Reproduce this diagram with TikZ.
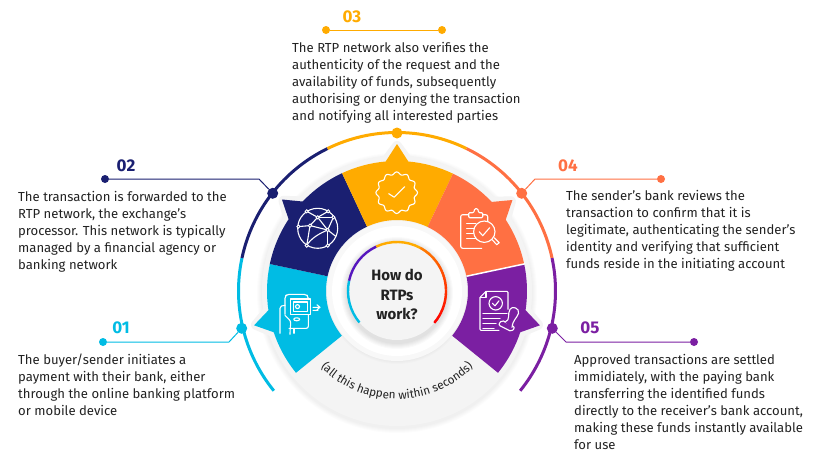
\documentclass[tikz,border=0pt]{standalone}
\usepackage{fontspec}
\setmainfont{Fira Sans}
\usetikzlibrary{decorations.text}
\definecolor{cgold}{HTML}{FFAB00}
\definecolor{cnavy}{HTML}{1A1F71}
\definecolor{corange}{HTML}{FF7043}
\definecolor{cpurple}{HTML}{7B1FA2}
\definecolor{ccyan}{HTML}{00BCE4}
\definecolor{cband}{HTML}{F4F4F4}
\definecolor{ctext}{HTML}{222222}
\tikzset{
  x=1pt,y=1pt,
  body/.style={anchor=north west,inner sep=0pt,align=left,text=ctext,font=\fontsize{13.1}{17}\selectfont},
  num/.style={inner sep=0pt,font=\fontsize{17}{17}\selectfont\bfseries},
  dot/.style={circle,inner sep=0pt,minimum size=#1,fill},
  lead/.style={line width=1pt},
  rim/.style={line width=3pt},
  ic/.style={draw=white,line width=1.1pt,line join=round,line cap=round},
}
\newcommand{\wedgeshape}[4]{% start, end, mid, color
  \fill[#4] (#1:71) -- (#1:130) arc (#1:#3-5:130) -- (#3:147) -- (#3+5:130) arc (#3+5:#2:130) -- (#2:71) arc (#2:#1:71) -- cycle;
}
\newcommand{\wedgerim}[3]{%
  \fill[cband,draw=cband,line width=10pt,line join=round] (#1:76) -- (#1:130) arc (#1:#3-5:130) -- (#3:145) -- (#3+5:130) arc (#3+5:#2:130) -- (#2:76) arc (#2:#1:76) -- cycle;
}
\begin{document}
\begin{tikzpicture}
\useasboundingbox (0,0) rectangle (830,-464);
\fill[white] (0,0) rectangle (830,-464);
% disc
\begin{scope}[shift={(397,-291)}]
  \foreach \r in {140,139,138,137,136}{\fill[black,opacity=0.012] (0,-2) circle (\r);}
  \wedgerim{168}{219}{193.5}
  \wedgerim{115}{168}{141.5}
  \wedgerim{64.5}{115}{90}
  \wedgerim{12}{64.5}{38.25}
  \wedgerim{-39}{12}{-13.5}
  \fill[cband] (0,0) circle (135);
  \wedgeshape{168}{219}{193.5}{ccyan}
  \wedgeshape{115}{168}{141.5}{cnavy}
  \wedgeshape{64.5}{115}{90}{cgold}
  \wedgeshape{12}{64.5}{38.25}{corange}
  \wedgeshape{-39}{12}{-13.5}{cpurple}
  \draw[white,line width=1.5pt] (12:71) -- (12:131);
  % centre
  \foreach \r in {71,70,69,68,67}{\fill[black,opacity=0.012] (0,-2) circle (\r);}
  \fill[cband!60!white] (0,0) circle (70);
  \fill[white] (0,0) circle (65);
  \foreach \r in {56,55,54,53,52,51}{\fill[black,opacity=0.02] (0,-2) circle (\r);}
  \fill[cband] (0,0) circle (49);
  \draw[cpurple!70!blue,line width=2.4pt] (168:49) arc (168:115:49);
  \draw[ccyan,line width=2.4pt] (220:49) arc (220:168:49);
  \draw[cgold,line width=2.4pt] (115:49) arc (115:62:49);
  \foreach \a [evaluate=\a as \m using (62-\a)*100/101] in {62,60,...,-38}{
    \draw[red!\m!orange,line width=2.4pt] (\a:49) arc (\a:\a-2.5:49);
  }
  % outer arcs
  \draw[ccyan,rim] (219:158.5) arc (219:168:158.5);
  \draw[cnavy,rim] (168:158.5) arc (168:116:158.5);
  \draw[cgold,rim] (116:158.5) arc (116:64:158.5);
  \draw[corange,rim] (64:158.5) arc (64:12:158.5);
  \draw[cpurple,rim] (12:158.5) arc (12:-39:158.5);
  \path[postaction={decorate,decoration={text along path,text align=center,text color=ctext,
     text={|\fontsize{11.7}{12}\selectfont|(all this happen within seconds)}}}]
     (212:108) arc (212:328:108);
\end{scope}
% centre label
\node[inner sep=0pt,align=center,text=ctext,font=\fontsize{15}{19.5}\selectfont\bfseries] (hub) at (397,-294.5) {How do\\RTPs\\work?};
% leaders
\node[dot=11pt,fill=cgold] (d3) at (397,-133) {};
\node[dot=8pt,fill=cgold] (e3a) at (326,-30) {};
\node[dot=8pt,fill=cgold] (e3b) at (442,-30) {};
\draw[cgold,lead] (e3a) -- (e3b);
\node[num,text=cgold] (n3) at (352,-17) {03};
\node[dot=11pt,fill=cnavy] (d2) at (272.7,-193.3) {};
\node[dot=8pt,fill=cnavy] (e2) at (105,-179) {};
\coordinate (c2) at (259,-179);
\draw[cnavy,lead] (e2) -- (c2) -- (d2);
\node[num,text=cnavy] (n2) at (126,-166) {02};
\node[dot=11pt,fill=corange] (d4) at (521.7,-193.3) {};
\node[dot=8pt,fill=corange] (e4) at (661,-179) {};
\coordinate (c4) at (535,-179);
\draw[corange,lead] (d4) -- (c4) -- (e4);
\node[num,text=corange] (n4) at (568,-166) {04};
\node[dot=11pt,fill=ccyan] (d1) at (241.7,-328.3) {};
\node[dot=8pt,fill=ccyan] (e1) at (103,-342) {};
\coordinate (c1) at (229,-342);
\draw[ccyan,lead] (e1) -- (c1) -- (d1);
\node[num,text=ccyan] (n1) at (121,-328) {01};
\node[dot=11pt,fill=cpurple] (d5) at (552.3,-328.3) {};
\node[dot=8pt,fill=cpurple] (e5) at (694,-342) {};
\coordinate (c5) at (566,-342);
\draw[cpurple,lead] (d5) -- (c5) -- (e5);
\node[num,text=cpurple] (n5) at (590,-328) {05};
% texts
\node[body] (t3) at (292,-42) {The RTP network also verifies the\\authenticity of the request and the\\availability of funds, subsequently\\authorising or denying the transaction\\and notifying all interested parties};
\node[body] (t2) at (18,-191) {The transaction is forwarded to the\\RTP network, the exchange’s\\processor. This network is typically\\managed by a financial agency or\\banking network};
\node[body] (t4) at (566,-190) {The sender’s bank reviews the\\transaction to confirm that it is\\legitimate, authenticating the sender’s\\identity and verifying that sufficient\\funds reside in the initiating account};
\node[body] (t1) at (18,-354) {The buyer/sender initiates a\\payment with their bank, either\\through the online banking platform\\or mobile device};
\node[body] (t5) at (574,-354) {Approved transactions are settled\\immidiately, with the paying bank\\transferring the identified funds\\directly to the receiver’s bank account,\\making these funds instantly available\\for use};
% icon: badge
\begin{scope}[shift={(396.7,-192.7)}]
  \draw[ic,smooth,samples=97,domain=0:360] plot (\x:{19.5+1.3*cos(12*\x)}) -- cycle;
  \draw[ic] (-8,-1) -- (-2.5,-4.5) -- (8,6);
\end{scope}
% icon: globe
\begin{scope}[shift={(317.7,-228.3)},yscale=-1]
  \draw[ic] (0,0) circle (20);
  \draw[ic] (-11,-17) -- (0,-11) -- (10.5,-17);
  \draw[ic] (0,-11) -- (15.7,-11);
  \draw[ic] (0,-11) -- (-7.7,-2.7) -- (-19.3,-1.7);
  \draw[ic] (0,-11) -- (10,1.7) -- (15.7,-11);
  \draw[ic] (-7.7,-2.7) -- (10,1.7) -- (18,8);
  \draw[ic] (-7.7,-2.7) .. controls (-9,5) and (-10,12) .. (-11,17.3);
  \draw[ic] (10,1.7) -- (10,17.3);
  \draw[ic] (10,1.7) .. controls (2,5) and (-7,10) .. (-11,17.3);
  \foreach \p in {(-11,-17),(10.5,-17),(0,-11),(15.7,-11),(-19.3,-1.7),(-7.7,-2.7),(10,1.7),(-11,17.3),(10,17.3)}{
    \fill[cnavy,draw=white,line width=0.9pt] \p circle (1.6);
  }
\end{scope}
% icon: clipboard
\begin{scope}[shift={(460.7,-211.7)},yscale=-1]
  \draw[ic,rounded corners=2] (27,9) -- (27,3) -- (0,3) -- (0,36.6) -- (21,36.6);
  \draw[ic,rounded corners=1,fill=corange] (8,6) -- (8,1) -- (13,1) -- (14,-3) -- (17,-3) -- (18,1) -- (22,1) -- (22,6) -- cycle;
  \foreach \y in {12,17,22,27}{\draw[ic] (6,\y) -- (15,\y);}
  \draw[ic,fill=corange] (23.6,20) circle (10.7);
  \draw[ic] (18.5,20) -- (22,24) -- (29,16);
  \draw[ic] (31.5,28) -- (36,33) -- (38.5,31) -- (33.5,26);
\end{scope}
% icon: stamped doc
\begin{scope}[shift={(480,-292.3)},yscale=-1]
  \draw[ic,rounded corners=1] (28,17) -- (28,-1) -- (6,-1) -- (0,5) -- (0,38) -- (19,38);
  \draw[ic] (0,5) -- (6,5) -- (6,-1);
  \draw[ic] (15.7,11) circle (6.7);
  \draw[ic] (12.5,11) -- (15,13.5) -- (19,8.5);
  \draw[ic] (3,21) -- (27,21);
  \draw[ic] (3,26) -- (20,26);
  \draw[ic] (3,31) -- (16,31);
  \draw[ic] (3,36) -- (14,36);
  \draw[ic,rounded corners=2,fill=cpurple] (18.3,32.7) -- (31.7,39.4) -- (35,35) -- (21.7,27.7) -- cycle;
  \draw[ic,fill=cpurple] (25,30) .. controls (31,27) and (27,22) .. (30,17) .. controls (32,13) and (40,16) .. (38.5,21) .. controls (37,26) and (33,27) .. (32,35);
\end{scope}
% icon: phone
\begin{scope}[shift={(280,-294.3)},yscale=-1]
  \draw[ic,rounded corners=2] (5,20) -- (5,2) -- (7,0) -- (26,0) -- (28.3,2) -- (28.3,5);
  \draw[ic,rounded corners=2] (28.3,20) -- (28.3,34) -- (9,34);
  \draw[ic,fill=ccyan] (10.7,4.7) rectangle (30.7,20);
  \draw[ic] (13.3,7.7) rectangle (27.3,17);
  \draw[ic] (17.5,12.3) circle (2);
  \draw[ic] (33,13) -- (40,13) (37,10.5) -- (40,13) -- (37,15.5) (33,16) -- (38,16);
  \draw[ic] (16.7,25) ellipse (3 and 1.5);
  \draw[ic] (0,39) -- (0,14) .. controls (0,12) and (2,11) .. (5,11);
  \draw[ic] (10,40) .. controls (10,30) and (12,28) .. (9,25) -- (5,21);
  \draw[ic] (14,34) -- (14,39);
\end{scope}
\end{tikzpicture}
\end{document}
